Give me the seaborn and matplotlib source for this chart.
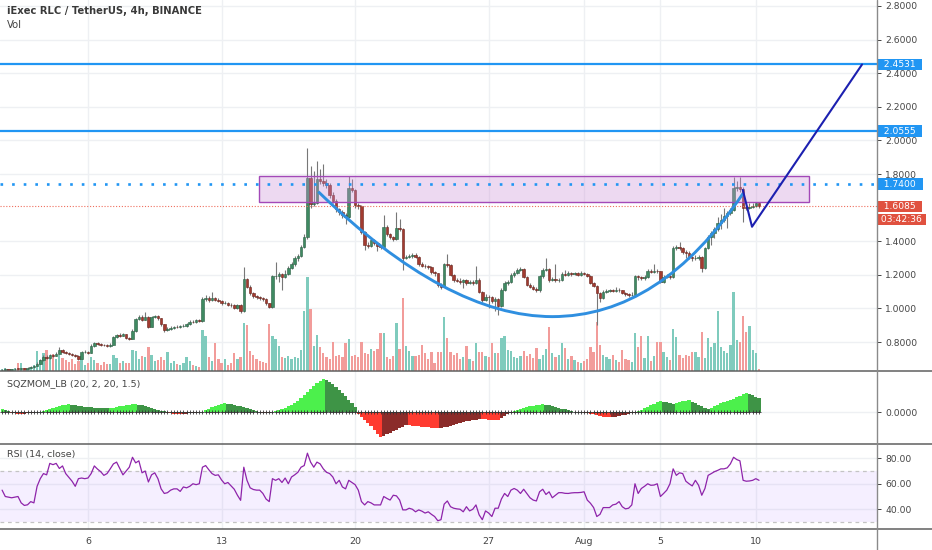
import numpy as np
import pandas as pd
import matplotlib
matplotlib.use("Agg")
import matplotlib.pyplot as plt
import matplotlib.transforms as mtransforms
from matplotlib.colors import to_rgba
from matplotlib.lines import Line2D
from matplotlib.patches import Rectangle, PathPatch
from matplotlib.path import Path
import seaborn as sns

# ----------------------------
# 1. Data (RLC/USDT, 4h candles)
# ----------------------------
first_time = "2019-07-01 12:00"
first_open = 0.632

close = [
    0.635, 0.640, 0.636, 0.638, 0.642, 0.640, 0.644, 0.641, 0.646, 0.650,
    0.658, 0.672, 0.690, 0.712, 0.705, 0.722, 0.718, 0.730, 0.755, 0.742,
    0.735, 0.728, 0.722, 0.715, 0.700, 0.738, 0.742, 0.736, 0.778, 0.792,
    0.788, 0.785, 0.780, 0.776, 0.784, 0.830, 0.842, 0.838, 0.845, 0.826,
    0.818, 0.868, 0.938, 0.946, 0.932, 0.950, 0.892, 0.948, 0.955, 0.940,
    0.905, 0.872, 0.880, 0.886, 0.892, 0.888, 0.895, 0.898, 0.905, 0.922,
    0.918, 0.928, 0.925, 1.058, 1.062, 1.048, 1.060, 1.052, 1.045, 1.030,
    1.035, 1.022, 1.018, 1.005, 1.020, 0.985, 1.175, 1.130, 1.090, 1.072,
    1.065, 1.062, 1.055, 1.030, 1.010, 1.190, 1.195, 1.202, 1.188, 1.205,
    1.240, 1.262, 1.300, 1.310, 1.368, 1.425, 1.775, 1.622, 1.628, 1.772,
    1.760, 1.748, 1.735, 1.675, 1.642, 1.590, 1.572, 1.555, 1.545, 1.715,
    1.705, 1.615, 1.610, 1.452, 1.380, 1.372, 1.405, 1.390, 1.372, 1.368,
    1.485, 1.442, 1.425, 1.412, 1.480, 1.475, 1.302, 1.305, 1.312, 1.320,
    1.308, 1.262, 1.255, 1.250, 1.245, 1.215, 1.208, 1.142, 1.130, 1.262,
    1.258, 1.200, 1.172, 1.165, 1.158, 1.168, 1.152, 1.160, 1.150, 1.172,
    1.098, 1.052, 1.070, 1.065, 1.042, 1.058, 1.012, 1.112, 1.150, 1.158,
    1.198, 1.212, 1.228, 1.235, 1.188, 1.142, 1.130, 1.118, 1.108, 1.190,
    1.228, 1.232, 1.170, 1.175, 1.168, 1.172, 1.205, 1.198, 1.210, 1.202,
    1.208, 1.200, 1.212, 1.205, 1.195, 1.152, 1.135, 1.090, 1.062, 1.100,
    1.105, 1.110, 1.102, 1.112, 1.108, 1.092, 1.085, 1.078, 1.082, 1.190,
    1.185, 1.178, 1.188, 1.222, 1.218, 1.225, 1.220, 1.160, 1.188, 1.192,
    1.185, 1.362, 1.368, 1.358, 1.335, 1.332, 1.305, 1.298, 1.302, 1.305,
    1.240, 1.360, 1.425, 1.448, 1.470, 1.510, 1.525, 1.548, 1.565, 1.585,
    1.715, 1.720, 1.712, 1.600, 1.598, 1.605, 1.612, 1.625, 1.6085,
]

high = [
    0.640, 0.643, 0.642, 0.641, 0.645, 0.646, 0.648, 0.647, 0.650, 0.655,
    0.662, 0.680, 0.700, 0.722, 0.720, 0.730, 0.728, 0.738, 0.768, 0.760,
    0.748, 0.740, 0.732, 0.726, 0.720, 0.748, 0.750, 0.748, 0.786, 0.800,
    0.798, 0.795, 0.790, 0.786, 0.792, 0.838, 0.850, 0.852, 0.852, 0.850,
    0.830, 0.875, 0.945, 0.960, 0.958, 0.978, 0.955, 0.955, 0.962, 0.962,
    0.945, 0.910, 0.888, 0.894, 0.898, 0.900, 0.902, 0.905, 0.912, 0.930,
    0.928, 0.935, 0.935, 1.068, 1.080, 1.072, 1.098, 1.070, 1.060, 1.052,
    1.045, 1.040, 1.030, 1.025, 1.028, 1.025, 1.245, 1.182, 1.138, 1.098,
    1.080, 1.074, 1.068, 1.060, 1.035, 1.200, 1.275, 1.215, 1.212, 1.230,
    1.250, 1.275, 1.310, 1.322, 1.380, 1.440, 1.955, 1.845, 1.820, 1.875,
    1.830, 1.860, 1.770, 1.745, 1.690, 1.650, 1.600, 1.585, 1.565, 1.790,
    1.770, 1.712, 1.630, 1.615, 1.460, 1.395, 1.415, 1.412, 1.398, 1.380,
    1.555, 1.495, 1.450, 1.432, 1.575, 1.530, 1.480, 1.318, 1.325, 1.330,
    1.328, 1.312, 1.275, 1.265, 1.258, 1.252, 1.225, 1.212, 1.152, 1.270,
    1.322, 1.265, 1.205, 1.182, 1.178, 1.175, 1.175, 1.170, 1.168, 1.250,
    1.178, 1.105, 1.085, 1.080, 1.075, 1.068, 1.062, 1.120, 1.162, 1.170,
    1.210, 1.222, 1.238, 1.245, 1.240, 1.195, 1.150, 1.138, 1.125, 1.198,
    1.240, 1.300, 1.238, 1.185, 1.262, 1.182, 1.215, 1.228, 1.220, 1.218,
    1.218, 1.215, 1.220, 1.218, 1.212, 1.200, 1.160, 1.140, 1.098, 1.108,
    1.115, 1.118, 1.115, 1.125, 1.120, 1.112, 1.098, 1.090, 1.095, 1.198,
    1.198, 1.192, 1.200, 1.235, 1.232, 1.262, 1.235, 1.225, 1.198, 1.205,
    1.200, 1.372, 1.380, 1.395, 1.365, 1.345, 1.340, 1.312, 1.315, 1.318,
    1.310, 1.368, 1.435, 1.460, 1.482, 1.545, 1.560, 1.600, 1.580, 1.600,
    1.785, 1.760, 1.780, 1.725, 1.632, 1.625, 1.628, 1.635, 1.630,
]

low = [
    0.630, 0.633, 0.634, 0.634, 0.636, 0.638, 0.638, 0.639, 0.640, 0.644,
    0.648, 0.655, 0.668, 0.686, 0.698, 0.700, 0.710, 0.714, 0.726, 0.736,
    0.730, 0.722, 0.716, 0.708, 0.692, 0.698, 0.732, 0.730, 0.732, 0.772,
    0.780, 0.778, 0.774, 0.770, 0.772, 0.780, 0.826, 0.832, 0.834, 0.820,
    0.812, 0.815, 0.862, 0.930, 0.926, 0.928, 0.882, 0.888, 0.940, 0.932,
    0.898, 0.860, 0.866, 0.874, 0.880, 0.882, 0.884, 0.890, 0.892, 0.900,
    0.912, 0.914, 0.918, 0.922, 1.045, 1.040, 1.042, 1.044, 1.036, 1.022,
    1.024, 1.015, 1.010, 0.998, 0.995, 0.970, 0.980, 1.120, 1.080, 1.062,
    1.058, 1.052, 1.045, 1.020, 1.000, 1.005, 1.175, 1.160, 1.110, 1.180,
    1.198, 1.232, 1.255, 1.282, 1.305, 1.360, 1.415, 1.600, 1.610, 1.620,
    1.740, 1.730, 1.715, 1.660, 1.630, 1.575, 1.555, 1.540, 1.500, 1.540,
    1.690, 1.600, 1.590, 1.440, 1.350, 1.360, 1.365, 1.375, 1.340, 1.355,
    1.360, 1.430, 1.415, 1.400, 1.405, 1.460, 1.230, 1.292, 1.298, 1.302,
    1.298, 1.250, 1.245, 1.240, 1.235, 1.205, 1.195, 1.130, 1.118, 1.125,
    1.245, 1.190, 1.160, 1.155, 1.148, 1.120, 1.140, 1.145, 1.140, 1.145,
    1.090, 1.040, 1.045, 1.005, 1.030, 0.985, 0.960, 1.008, 1.105, 1.140,
    1.150, 1.188, 1.205, 1.220, 1.178, 1.132, 1.120, 1.108, 1.098, 1.100,
    1.182, 1.220, 1.160, 1.162, 1.160, 1.160, 1.165, 1.190, 1.192, 1.195,
    1.198, 1.192, 1.195, 1.198, 1.188, 1.145, 1.125, 0.900, 1.040, 1.055,
    1.092, 1.098, 1.095, 1.098, 1.100, 1.085, 1.075, 1.070, 1.072, 1.078,
    1.170, 1.168, 1.172, 1.182, 1.208, 1.210, 1.212, 1.150, 1.152, 1.178,
    1.175, 1.180, 1.350, 1.345, 1.325, 1.300, 1.295, 1.285, 1.290, 1.290,
    1.215, 1.235, 1.352, 1.380, 1.420, 1.460, 1.470, 1.515, 1.480, 1.555,
    1.578, 1.700, 1.690, 1.515, 1.585, 1.590, 1.595, 1.605, 1.600,
]

volume = [
    2, 3, 2, 2, 3, 8, 8, 3, 2, 4,
    6, 20, 11, 18, 21, 14, 17, 12, 16, 13,
    11, 9, 12, 7, 10, 15, 6, 8, 14, 11,
    8, 6, 9, 7, 7, 16, 13, 8, 10, 8,
    8, 21, 20, 12, 15, 14, 24, 16, 10, 11,
    14, 11, 19, 8, 10, 7, 6, 8, 14, 10,
    6, 5, 4, 41, 35, 14, 10, 28, 12, 8,
    12, 6, 8, 18, 12, 14, 48, 46, 20, 16,
    12, 10, 9, 8, 47, 35, 32, 25, 14, 13,
    15, 12, 14, 13, 21, 60, 94, 62, 25, 36,
    24, 18, 14, 12, 29, 15, 16, 14, 28, 32,
    15, 16, 14, 29, 18, 17, 22, 20, 22, 38,
    38, 14, 12, 15, 48, 22, 73, 25, 20, 15,
    15, 16, 26, 18, 12, 19, 8, 19, 19, 54,
    33, 19, 16, 18, 12, 14, 25, 12, 10, 28,
    19, 19, 15, 14, 28, 18, 18, 33, 35, 21,
    20, 14, 13, 15, 20, 15, 17, 13, 23, 12,
    16, 22, 44, 18, 14, 16, 28, 23, 12, 15,
    11, 9, 8, 10, 12, 24, 19, 49, 26, 16,
    14, 12, 16, 11, 9, 21, 12, 11, 9, 38,
    24, 35, 13, 35, 10, 15, 29, 29, 19, 14,
    11, 42, 34, 16, 13, 16, 15, 19, 19, 14,
    39, 13, 33, 24, 28, 60, 24, 20, 18, 26,
    79, 31, 29, 55, 39, 45, 21, 18, 2,
]

sqz_mom = [
    3, 2, 1,
    -0.5, -1, -1.5, -2, -1.5, -1, -1, -0.5, -0.3,
    0.5, 1.5, 2.5, 3.5, 4.5, 5.5, 6.5, 7, 7.5, 8,
    7.5, 7, 6.5, 6, 5.5, 5,
    4.8, 4.5, 4.2, 4.0, 3.8, 3.6,
    3.8,
    4.5, 5.2, 5.8, 6.3, 6.8, 7.2, 7.6, 8,
    7.5, 7, 6.2, 5.3, 4.4, 3.5, 2.5, 1.5, 0.6,
    -0.5, -1, -1.5, -2, -2.2, -2, -1.5, -1, -0.8, -0.5, -0.3, 0.3,
    2, 3.5, 5, 6.5, 7.5, 8.5, 9,
    8.5, 8, 7.2, 6.4, 5.6, 4.8, 4, 3, 2, 1.2, 0.5,
    -0.5, -1, -0.8,
    0.5, 1.5, 2.5, 3.5, 4.5, 6, 7.5, 9.5, 11.5, 14, 17, 20, 23, 26, 29, 31.5, 33,
    32, 30, 28, 25, 22, 19, 16, 12.5, 9, 5,
    -2, -5, -8, -11, -14, -18, -22, -25,
    -23.5, -22, -20.5, -19, -17.5, -16, -14.5, -13,
    -13.3, -13.6, -14, -14.3, -14.6, -15, -15.3, -15.6, -15.8, -16,
    -15.5, -15, -14.5, -14, -13, -12, -11, -10, -9, -8.5, -8, -7.5, -7,
    -7.2, -7.4, -7.6, -7.8, -8, -8.1,
    -6, -4, -2, -0.5,
    0.8, 1.8, 2.8, 3.8, 4.8, 5.6, 6.3, 7, 7.5, 8,
    7.5, 6.8, 6, 5.2, 4.4, 3.5, 2.6, 1.7, 0.8,
    0.3, -0.2, -0.4, -0.6, -0.9, -1.5,
    -2.2, -3, -3.8, -4.5, -5, -5.3,
    -5, -4.6, -4, -3.4, -2.7, -2, -1.2, -0.5,
    0.8, 2.2, 3.8, 5.5, 7, 8.5, 9.8, 11,
    10.5, 9.8, 9, 8.3,
    9, 10, 10.8, 11.5, 12,
    10.5, 9, 7.5, 6, 4.5, 3.2,
    4.5, 6, 7.5, 9, 10.5, 11.5, 12.5, 13.5, 15, 16.5, 18, 19.5,
    18.5, 17, 15.5, 14,
]

rsi = [
    55, 50, 49.5, 49, 49.5, 50, 45, 43, 43.5, 46,
    45, 58, 64, 68, 67, 76, 75, 76, 72, 74,
    68, 65, 62, 58, 64, 64.5, 64, 64.5, 68, 74,
    71.5, 69.5, 66.6, 68, 71.7, 75.6, 77, 72, 67, 70,
    73, 80.8, 76.4, 78, 68.6, 70, 61.4, 67, 68.6, 64,
    56, 52.4, 53, 55, 56, 56, 54, 57.5, 56.8, 58,
    60, 59.3, 60, 73, 74.3, 71, 68, 66.6, 67, 63,
    60, 61, 58.3, 55.7, 51, 47, 73, 62.7, 56.8, 55.5,
    55, 55, 52.4, 48, 46, 64, 62.7, 64, 61, 64.5,
    60, 65.3, 67, 69, 73, 74.3, 84, 77, 73, 77,
    75.6, 71.7, 69, 68, 65.3, 60, 62.7, 57.5, 56, 62.7,
    61, 59.3, 55, 46, 43.4, 46, 45, 43.4, 43.4, 43.4,
    50, 48.5, 47.2, 51, 50.5, 47.2, 39.5, 39.5, 40.8, 40,
    38, 39.5, 38.5, 37, 38, 36, 34.3, 31, 31.8, 44,
    46.5, 42, 40.8, 40.3, 40, 38, 42, 38.7, 40, 43.4,
    35.6, 31.8, 38.7, 37, 34.3, 40.8, 40.8, 48, 52.4, 50,
    55, 56.3, 55, 52.4, 55.7, 52.4, 49, 47.2, 46.5, 53.7,
    55.7, 51.6, 53.7, 49, 51, 53, 53, 52.5, 52.4, 52.8,
    53, 53, 53.2, 53.7, 47.2, 44.7, 41.3, 34.3, 36, 41.3,
    41.3, 41.3, 43.4, 44, 46, 42, 40.3, 40.8, 43.4, 60,
    52.4, 56.3, 58, 60, 58.8, 59, 60, 50, 52.4, 55,
    60, 71.7, 66.6, 68.6, 68, 62, 60, 58.3, 62.7, 58.8,
    51, 56.3, 66.6, 68, 69.5, 70.5, 71.7, 71.7, 72.5, 75.6,
    80.8, 79, 78, 62.7, 62, 62.2, 62.7, 64, 62.7,
]

# axis ticks / labels
date_ticks = ["2019-07-06", "2019-07-13", "2019-07-20", "2019-07-27",
              "2019-08-01", "2019-08-05", "2019-08-10"]
date_labels = ["6", "13", "20", "27", "Aug", "5", "10"]
price_ticks = [0.8, 1.0, 1.2, 1.4, 1.8, 2.0, 2.2, 2.4, 2.6, 2.8]
rsi_ticks = [40, 60, 80]

# drawings on the chart (x in bar index units, y in price)
resistance_levels = [2.4531, 2.0555]
dotted_level = 1.7400
last_price = 1.6085
countdown = "03:42:36"
zone_x = [80.9, 253.6]
zone_y = [1.632, 1.788]
cup_x = [99.4, 140, 173, 207, 233]
cup_y = [1.695, 0.951, 0.951, 0.951, 1.685]
proj_x = [232.9, 235.8, 270.4]
proj_y = [1.705, 1.486, 2.452]

# ----------------------------
# 2. Frame
# ----------------------------
n = len(close)
df = pd.DataFrame({
    "time": pd.date_range(first_time, periods=n, freq="4h"),
    "open": [first_open] + close[:-1],
    "high": high, "low": low, "close": close,
    "volume": volume, "sqz": sqz_mom, "rsi": rsi,
})
df["bar"] = np.arange(n)
df["up"] = df["close"] >= df["open"]
tick_pos = df["time"].searchsorted(pd.to_datetime(date_ticks))

sns.set_theme(style="white")
plt.rcParams["font.family"] = ["DejaVu Sans"]

TXT = "#444444"
GRID = "#eef0f3"
BLUE = "#2196f3"
RED = "#e0513f"

W, H = 932, 550
fig = plt.figure(figsize=(W / 100, H / 100), dpi=100)
fig.patch.set_facecolor("white")


def pane(top, bottom):
    return [0, 1 - bottom / H, 877 / W, (bottom - top) / H]


ax = fig.add_axes(pane(0, 371))
ax_sq = fig.add_axes(pane(371, 443.5), sharex=ax)
ax_rsi = fig.add_axes(pane(443.5, 529), sharex=ax)

for a in (ax, ax_sq, ax_rsi):
    for s in a.spines.values():
        s.set_visible(False)
    a.set_facecolor("white")
    a.set_axisbelow(True)
    for p in tick_pos:
        a.axvline(p, color=GRID, lw=1, zorder=0)
    a.yaxis.tick_right()
    a.tick_params(axis="y", labelsize=6.6, colors=TXT, length=3, width=0.7, pad=3)
    a.tick_params(axis="x", length=0, labelbottom=False)

ax.set_xlim(-0.66, 275.1)

# ----------------------------
# 3. Price pane: volume, candles, drawings
# ----------------------------
for p in price_ticks:
    ax.axhline(p, color=GRID, lw=1, zorder=0)

vol_col = np.where(df["up"], "#7fcbbd", "#f29c9a")
ax.bar(df["bar"], df["volume"] / (df["volume"].max() * 3.95), width=0.72,
       color=vol_col, lw=0, transform=ax.get_xaxis_transform(), zorder=1)

body_col = np.where(df["up"], "#3f8a62", "#a23b30")
edge_col = np.where(df["up"], "#2a5e43", "#6a2119")
ax.vlines(df["bar"], df["low"], df["high"], color="#777777", lw=0.8, zorder=2)
ax.bar(df["bar"], (df["close"] - df["open"]).abs().clip(lower=0.003),
       bottom=np.minimum(df["open"], df["close"]), width=0.8,
       color=body_col, edgecolor=edge_col, lw=0.4, zorder=3)

ax.add_patch(Rectangle((zone_x[0], zone_y[0]), zone_x[1] - zone_x[0], zone_y[1] - zone_y[0],
                       facecolor=to_rgba("#ce93d8", 0.35), edgecolor="#a349b8", lw=1, zorder=4))

for lvl in resistance_levels:
    ax.axhline(lvl, color=BLUE, lw=1.6, zorder=5)
ax.axhline(dotted_level, color=BLUE, lw=1.9, ls=(0, (1, 3.4)), zorder=5)
ax.axhline(last_price, color="#ef6f5e", lw=0.8, ls=(0, (1, 1.6)), zorder=5)

cup = Path(list(zip(cup_x, cup_y)),
           [Path.MOVETO, Path.CURVE3, Path.CURVE3, Path.CURVE3, Path.CURVE3])
ax.add_patch(PathPatch(cup, fill=False, edgecolor="#2f8fe0", lw=2.1, zorder=6))
ax.plot(proj_x, proj_y, color="#1c20b0", lw=1.5, zorder=6, solid_capstyle="round")

ax.set_ylim(0.6274, 2.8357)
ax.set_yticks(price_ticks)
ax.set_yticklabels([f"{p:.4f}" for p in price_ticks])

lab_tf = mtransforms.offset_copy(ax.get_yaxis_transform(), fig=fig, x=1, y=0, units="dots")
for lvl, fc in [(resistance_levels[0], BLUE), (resistance_levels[1], BLUE),
                (dotted_level, BLUE), (last_price, RED)]:
    ax.text(1.0, lvl, f"  {lvl:.4f}  ", transform=lab_tf, ha="left", va="center",
            fontsize=6.6, color="white", clip_on=False, zorder=20,
            bbox=dict(boxstyle="square,pad=0.12", fc=fc, ec="none"))
cd_tf = mtransforms.offset_copy(ax.get_yaxis_transform(), fig=fig, x=1, y=-13, units="dots")
ax.text(1.0, last_price, f" {countdown} ", transform=cd_tf, ha="left", va="center",
        fontsize=6.6, color="white", clip_on=False, zorder=20,
        bbox=dict(boxstyle="square,pad=0.12", fc=RED, ec="none"))

# ----------------------------
# 4. Squeeze momentum pane
# ----------------------------
prev = df["sqz"].shift(1).fillna(0)
sq_col = np.where(df["sqz"] > 0,
                  np.where(df["sqz"] > prev, "#4cf04c", "#3e9446"),
                  np.where(df["sqz"] < prev, "#ff3b30", "#8b2c2a"))
ax_sq.axhline(0, color=GRID, lw=1, zorder=0)
ax_sq.bar(df["bar"], df["sqz"], width=1.0, color=sq_col, lw=0, zorder=2)
ax_sq.scatter(df["bar"], np.zeros(n), marker="+", s=5, color="#333333", lw=0.6, zorder=3)
ax_sq.set_ylim(-31.5, 41)
ax_sq.set_yticks([0])
ax_sq.set_yticklabels(["0.0000"])

# ----------------------------
# 5. RSI pane
# ----------------------------
for p in rsi_ticks:
    ax_rsi.axhline(p, color=GRID, lw=1, zorder=0)
ax_rsi.axhspan(30, 70, color="#b388ff", alpha=0.13, lw=0, zorder=0.6)
ax_rsi.axhline(70, color="#c4c4c4", lw=0.9, ls=(0, (3, 3)), zorder=1)
ax_rsi.axhline(30, color="#c4c4c4", lw=0.9, ls=(0, (3, 3)), zorder=1)
sns.lineplot(data=df, x="bar", y="rsi", ax=ax_rsi, color="#8e24aa", lw=0.9, zorder=3)
ax_rsi.set_ylim(24.5, 91.6)
ax_rsi.set_yticks(rsi_ticks)
ax_rsi.set_yticklabels([f"{p:.2f}" for p in rsi_ticks])
ax_rsi.set_xlabel("")
ax_rsi.set_ylabel("")
ax_rsi.set_xticks(tick_pos)
ax_rsi.set_xticklabels(date_labels)
ax_rsi.tick_params(axis="x", labelbottom=True, labelsize=6.8, colors=TXT,
                   length=3, width=0.7, pad=3, direction="out")
ax_rsi.set_xlim(-0.66, 275.1)

# ----------------------------
# 6. Pane separators and captions
# ----------------------------
for yy in (371, 443.5, 529):
    fig.add_artist(Line2D([0, 1], [1 - yy / H] * 2, color="#5f5f5f", lw=1.1))
fig.add_artist(Line2D([877 / W] * 2, [0, 1], color="#8a8a8a", lw=1.0))

fig.text(7 / W, 1 - 11.5 / H, "iExec RLC / TetherUS, 4h, BINANCE", fontsize=7.2,
         color="#3a3a3a", va="center", fontweight="semibold")
fig.text(7 / W, 1 - 24.5 / H, "Vol", fontsize=7.2, color=TXT, va="center")
fig.text(7 / W, 1 - 384 / H, "SQZMOM_LB (20, 2, 20, 1.5)", fontsize=6.8, color=TXT, va="center")
fig.text(7 / W, 1 - 455 / H, "RSI (14, close)", fontsize=6.8, color=TXT, va="center")

fig.savefig("out.png", dpi=100, facecolor="white")
